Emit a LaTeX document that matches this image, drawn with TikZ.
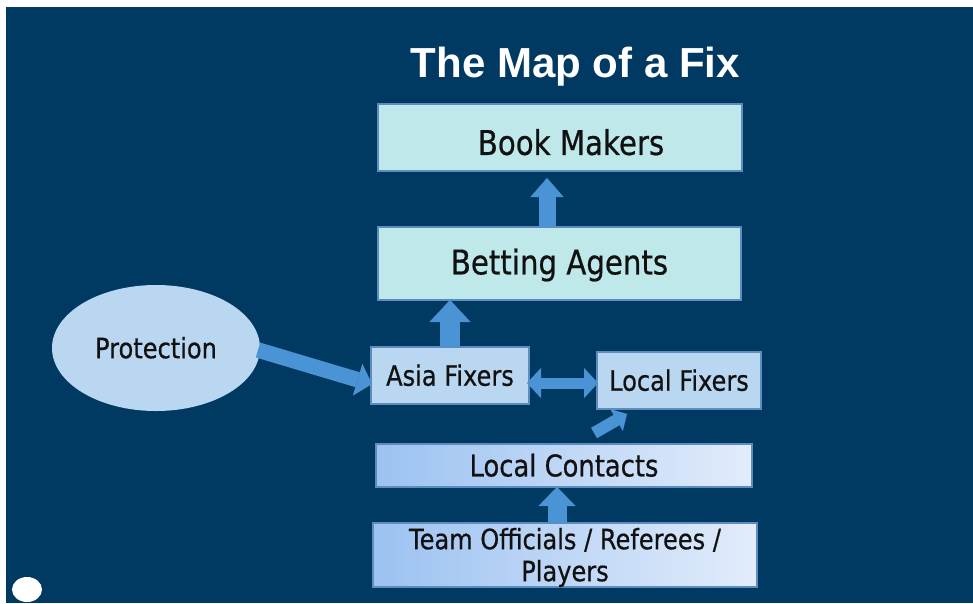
\documentclass[tikz,border=0pt]{standalone}
\usepackage{fontspec}
\usetikzlibrary{arrows.meta,calc,shapes.geometric}
\newfontfamily\lblfont[FakeStretch=0.86,FakeBold=0.6]{DejaVu Sans}
\newfontfamily\titlefont{Liberation Sans}
\definecolor{navy}{HTML}{003A63}
\definecolor{cyanfill}{HTML}{BEE8EA}
\definecolor{bluefill}{HTML}{B9D7F1}
\definecolor{boxline}{HTML}{5E8DBD}
\definecolor{gradL}{HTML}{9CC2F1}
\definecolor{gradR}{HTML}{E2ECFB}
\definecolor{arrcol}{HTML}{4A93D4}
\definecolor{txt}{HTML}{111111}
\begin{document}
\begin{tikzpicture}[x=1pt,y=-1pt,
  basebox/.style={draw=boxline, line width=1.6pt, inner sep=0pt, outer sep=0pt, text=txt, anchor=center},
  cyanbox/.style={basebox, fill=cyanfill, font=\lblfont\fontsize{34}{40}\selectfont, text height=24.8pt, text depth=0pt},
  bluebox/.style={basebox, fill=bluefill, font=\lblfont\fontsize{28}{32}\selectfont, text height=20.4pt, text depth=0pt},
  gradbox/.style={basebox, left color=gradL, right color=gradR},
  blockarrow/.style={draw=arrcol, line width=#1, line cap=butt},
]
\useasboundingbox (0,0) rectangle (973,603);
\fill[white] (0,0) rectangle (973,603);
\fill[navy] (6,7) rectangle (973,603);

% title
\node[anchor=base, text=white, inner sep=0pt, font=\titlefont\bfseries\fontsize{42}{48}\selectfont] (title) at (575.5,77) {The Map of a Fix};

% boxes
\node[cyanbox, minimum width=364pt, minimum height=67pt, text height=34.8pt] (book) at (560,137.5) {\hspace*{22pt}Book Makers};
\node[cyanbox, minimum width=363pt, minimum height=73pt, text depth=3pt] (bet) at (559.5,263.5) {Betting Agents};
\node[bluebox, minimum width=158pt, minimum height=57pt] (asia) at (450,375.5) {Asia Fixers};
\node[bluebox, minimum width=164pt, minimum height=57pt] (lfix) at (679,380.5) {Local Fixers};
\node[ellipse, draw=none, fill=bluefill, inner sep=0pt, outer sep=0pt, text=txt,
      minimum width=208pt, minimum height=126pt,
      font=\lblfont\fontsize{28}{32}\selectfont, text height=20.4pt, text depth=0pt] (prot) at (156,348) {Protection};
\node[gradbox, minimum width=376pt, minimum height=43pt,
      font=\lblfont\fontsize{30}{36}\selectfont, text height=21.9pt, text depth=0pt] (lcon) at (564,465.5) {Local Contacts};
\node[gradbox, minimum width=384pt, minimum height=64pt,
      font=\lblfont\fontsize{28}{32}\selectfont] (team) at (565,555)
      {\raisebox{0pt}[20.4pt][32pt]{\begin{tabular}[t]{@{}c@{}}Team Officials / Referees /\\Players\end{tabular}}};

% arrows
\draw[blockarrow=17pt, -{Triangle[length=19pt,width=33pt,line width=0.1pt]}]
  ($(bet.north)+(-12.5,0)$) -- ($(book.south)+(-13,7)$);
\draw[blockarrow=20pt, -{Triangle[length=22pt,width=41pt,line width=0.1pt]}]
  (asia.north) -- (asia.north |- bet.south);
\draw[blockarrow=15.5pt, -{Triangle[length=15pt,width=33pt,line width=0.1pt]}]
  ($(prot.east)+(-2,2)$) -- ($(asia.west)+(1,8.5)$);
\draw[blockarrow=11pt, {Triangle[length=14pt,width=30pt,line width=0.1pt]}-{Triangle[length=14pt,width=30pt,line width=0.1pt]}]
  ($(asia.east)+(-2,7.5)$) -- ($(lfix.west)+(1,2.5)$);
\draw[blockarrow=12pt, -{Triangle[length=12pt,width=25pt,line width=0.1pt]}]
  ($(lcon.north)+(30,-11)$) -- ($(lfix.south)+(-52,5)$);
\draw[blockarrow=19pt, -{Triangle[length=19pt,width=37pt,line width=0.1pt]}]
  ($(team.north)+(-8,0)$) -- ($(lcon.south)+(-7,0)$);

% small white ellipse
\fill[white] (27,589.5) ellipse [x radius=15, y radius=12.5];
\end{tikzpicture}
\end{document}
